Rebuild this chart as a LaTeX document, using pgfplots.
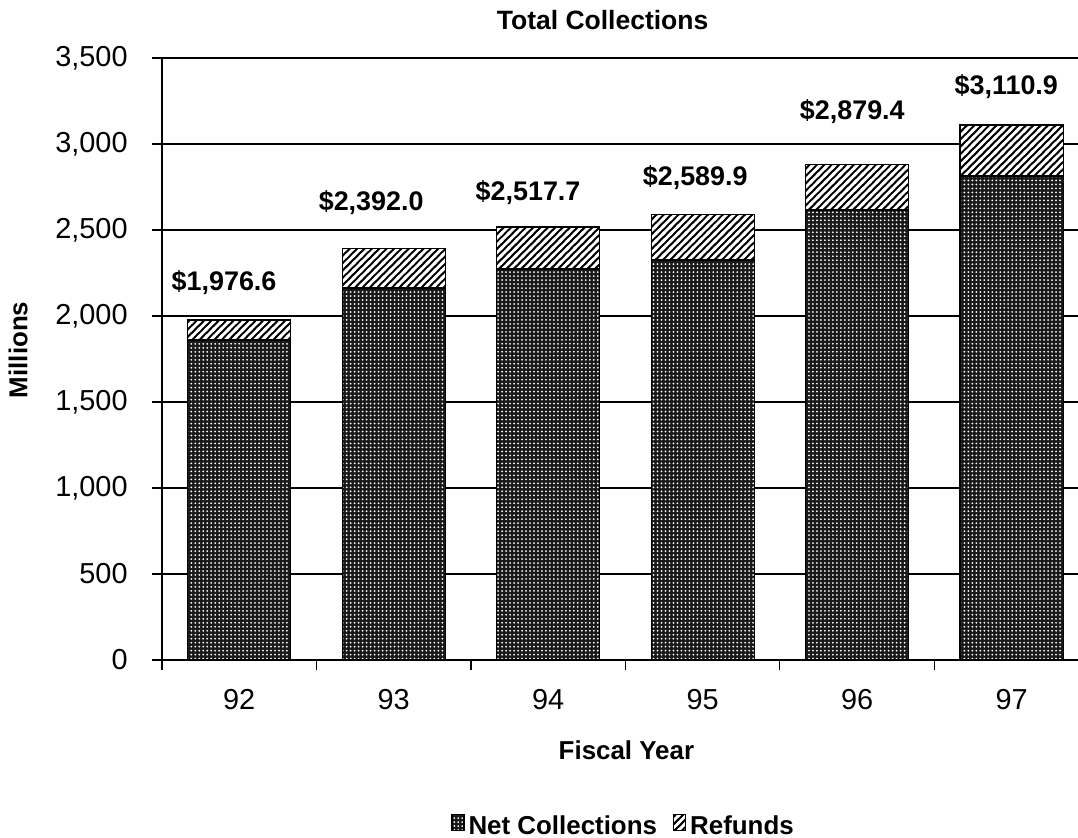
\documentclass[border=0pt]{standalone}
\usepackage{fontspec}
\setmainfont{Liberation Sans}
\usepackage{pgfplots}
\pgfplotsset{compat=1.18}
\usetikzlibrary{patterns.meta}

% diagonal bands: painted in white over a black fill they leave black hatch lines
\pgfdeclarepatternformonly{refgaps}{\pgfqpoint{-1pt}{-1pt}}{\pgfqpoint{4.7pt}{4.7pt}}{\pgfqpoint{3.7pt}{3.7pt}}{%
  \pgfpathmoveto{\pgfqpoint{-1pt}{-1.99pt}}%
  \pgfpathlineto{\pgfqpoint{4.7pt}{3.71pt}}%
  \pgfpathlineto{\pgfqpoint{4.7pt}{5.69pt}}%
  \pgfpathlineto{\pgfqpoint{-1pt}{0.01pt}}%
  \pgfpathclose
  \pgfusepath{fill}}

\tikzset{
  netbar/.style={draw=black, line width=0.6bp, fill=black!90,
    postaction={pattern={Dots[radius=0.5pt, distance=2pt]}, pattern color=white}},
  refundbar/.style={draw=black, line width=0.6bp, fill=black,
    postaction={pattern=refgaps, pattern color=white}},
  lbl/.style={font=\bfseries\fontsize{13.5}{15}\selectfont},
}

\pgfplotsset{
  legend image code/.code={\draw[#1] (0bp,-4.5bp) rectangle (9bp,4.5bp);},
}

\begin{document}
\begin{tikzpicture}
\begin{axis}[
    scale only axis,
    width=458bp, height=301bp,
    ybar stacked,
    bar width=0.667,
    xmin=-0.5, xmax=5.43,
    ymin=0, ymax=3500,
    xtick={-0.5,0.5,1.5,2.5,3.5,4.5},
    xticklabels={},
    extra x ticks={0,1,2,3,4,5},
    extra x tick labels={92,93,94,95,96,97},
    extra x tick style={tick style={draw=none}},
    ytick={0,500,1000,1500,2000,2500,3000,3500},
    axis lines*=left,
    axis line style={line width=0.7bp},
    ymajorgrids,
    grid style={black, line width=0.6bp},
    tick align=outside,
    major tick length=5bp,
    tick style={line width=0.6bp, black},
    /pgf/number format/assume math mode=true,
    /pgf/number format/1000 sep={,},
    tick label style={font=\fontsize{14.5}{16}\selectfont},
    xticklabel style={anchor=center, yshift=-15bp},
    yticklabel style={anchor=east, inner sep=0pt, xshift=-12bp},
    title={Total Collections},
    title style={font=\bfseries\fontsize{13.3}{15}\selectfont,
      at={(axis description cs:0.481,1.063)}, anchor=center, yshift=-6pt},
    xlabel={Fiscal Year},
    xlabel style={font=\bfseries\fontsize{13}{15}\selectfont,
      at={(axis description cs:0.507,-0.1495)}, anchor=center},
    ylabel={Millions},
    ylabel style={font=\bfseries\fontsize{13}{15}\selectfont,
      at={(axis description cs:-0.157,0.515)}, anchor=center},
    legend columns=2,
    legend style={draw=none, fill=none, at={(0.505,-0.277)}, anchor=center,
      font=\bfseries\fontsize{13}{15}\selectfont,
      /tikz/every even column/.append style={column sep=6bp}},
]

% Net Collections
\addplot[netbar] coordinates {
    (0,1860) (1,2163) (2,2273) (3,2326) (4,2616) (5,2814)
};
% Refunds (total minus net)
\addplot[refundbar] coordinates {
    (0,116.6) (1,229.0) (2,244.7) (3,263.9) (4,263.4) (5,296.9)
};
\legend{Net Collections, Refunds}

\node[lbl] at (axis cs:-0.098,2192) {\$1,976.6};
\node[lbl] at (axis cs:0.854,2657) {\$2,392.0};
\node[lbl] at (axis cs:1.870,2715) {\$2,517.7};
\node[lbl] at (axis cs:2.952,2802) {\$2,589.9};
\node[lbl] at (axis cs:3.969,3186) {\$2,879.4};
\node[lbl] at (axis cs:4.966,3331) {\$3,110.9};
\end{axis}
\pgfresetboundingbox
\path[use as bounding box] (-81bp,-89bp) rectangle (458bp,330bp);
\end{tikzpicture}
\end{document}
